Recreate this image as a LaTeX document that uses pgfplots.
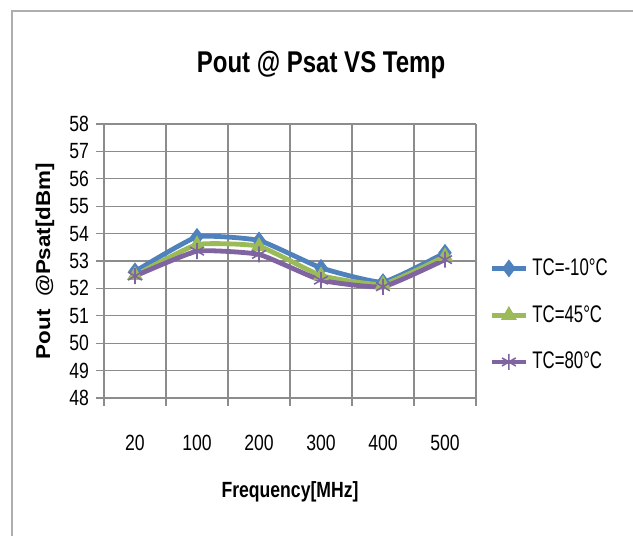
\documentclass[border=0pt]{standalone}
\usepackage{pgfplots}
\pgfplotsset{compat=1.18}
\usepackage{fontspec}
\setmainfont{Liberation Sans}
\newfontfamily\condfont[FakeStretch=0.8]{Liberation Sans}
\newfontfamily\legfont[FakeStretch=0.7]{Liberation Sans}
\newfontfamily\widefont[FakeStretch=1.12]{Liberation Sans}
\definecolor{sblue}{HTML}{4F81BD}
\definecolor{sgreen}{HTML}{9BBB59}
\definecolor{spurple}{HTML}{8064A2}
\definecolor{gridc}{HTML}{8C8C8C}
\begin{document}
\begin{tikzpicture}
\useasboundingbox (0,0) rectangle (316.5pt,268pt);
\draw[gridc!70, line width=0.6pt] (6pt,0) -- (6pt,262.5pt) -- (316.5pt,262.5pt);
\begin{axis}[
  at={(52pt,69pt)}, anchor=south west,
  scale only axis, width=186pt, height=137pt,
  xmin=-0.5, xmax=5.5, ymin=48, ymax=58,
  xtick={0,1,2,3,4,5},
  xticklabels={20,100,200,300,400,500},
  minor xtick={-0.5,0.5,1.5,2.5,3.5,4.5,5.5},
  ytick={48,49,...,58},
  tick align=outside,
  major tick length=4pt, minor tick length=4pt,
  x tick style={draw=none},
  minor x tick style={draw=gridc, line width=0.6pt},
  y tick style={draw=gridc, line width=0.6pt},
  ymajorgrids, xminorgrids,
  major grid style={draw=gridc, line width=0.6pt},
  minor grid style={draw=gridc, line width=0.6pt},
  axis line style={draw=gridc, line width=0.6pt},
  axis x line*=bottom, axis y line*=left,
  /pgf/number format/assume math mode=true,
  ticklabel style={font=\condfont\fontsize{11}{12}\selectfont},
  xticklabel style={yshift=-11pt},
  xlabel={\condfont\bfseries Frequency[MHz]},
  xlabel style={at={(axis description cs:0.5,0)}, anchor=center, yshift=-47pt, font=\fontsize{11}{12}\selectfont},
  ylabel={\widefont\bfseries Pout\ \ @Psat[dBm]},
  ylabel style={at={(axis description cs:-0.159,0.5)}, anchor=center, font=\fontsize{10}{12}\selectfont},
  legend style={at={(1.035,0.525)}, anchor=north west, draw=none, fill=none,
    font=\legfont\fontsize{12}{13}\selectfont, row sep=9.5pt,
    legend cell align=left, inner sep=0pt},
  legend image code/.code={
    \draw[mark repeat=2,mark phase=2] plot coordinates {(0cm,0cm) (0.3cm,0cm) (0.6cm,0cm)};},
  every axis plot/.append style={line width=2.4pt, smooth, tension=0.25},
]
\addplot[sblue, mark=diamond*, mark size=4pt, mark options={solid, line width=0.6pt}] coordinates {
 (0,52.62) (1,53.88) (2,53.75) (3,52.75) (4,52.23) (5,53.3)};
\addlegendentry{TC=-10°C}
\addplot[sgreen, mark=triangle*, mark size=4pt, mark options={solid, line width=0.6pt}] coordinates {
 (0,52.48) (1,53.6) (2,53.54) (3,52.47) (4,52.15) (5,53.17)};
\addlegendentry{TC=45°C}
\addplot[spurple, mark=asterisk, mark size=4pt, mark options={solid, line width=0.8pt}] coordinates {
 (0,52.45) (1,53.36) (2,53.24) (3,52.3) (4,52.06) (5,53.05)};
\addlegendentry{TC=80°C}
\end{axis}
\node[font=\condfont\bfseries\fontsize{15}{18}\selectfont] at (160.5pt,235.5pt) {Pout @ Psat VS Temp};
\end{tikzpicture}
\end{document}
